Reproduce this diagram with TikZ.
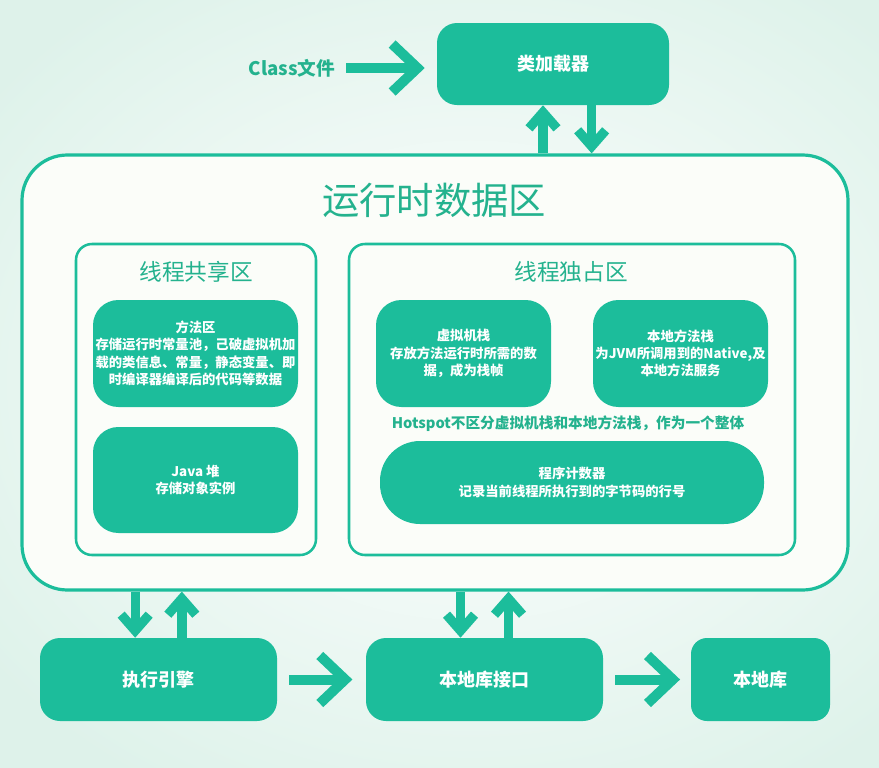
\documentclass[tikz,border=0pt]{standalone}
\usepackage{fontspec}
\setmainfont{Noto Sans CJK SC}
\usetikzlibrary{arrows.meta}
\definecolor{tl}{RGB}{28,189,155}
\definecolor{tltext}{RGB}{36,178,142}
\definecolor{bgm}{RGB}{222,242,234}
\definecolor{panel}{RGB}{251,253,249}
\tikzset{
  box/.style={fill=tl, text=white, align=center, inner sep=0pt,
    font=\fontsize{10}{13}\selectfont\bfseries},
  bigbox/.style={box, font=\fontsize{13.5}{16}\selectfont\bfseries},
  frame/.style={draw=tl, fill=panel, inner sep=0pt},
  harrow/.style={draw=tl, line width=7.5pt,
    -{Straight Barb[length=19pt, width=36pt]}},
  varrow/.style={draw=tl, line width=7pt,
    -{Straight Barb[length=12pt, width=21pt]}},
  ttl/.style={text=tltext, inner sep=0pt}
}
\begin{document}
\begin{tikzpicture}[x=0.75pt,y=-0.75pt]
\useasboundingbox (0,0) rectangle (879,768);
\fill[bgm] (0,0) rectangle (879,768);
\shade[inner color=white, outer color=bgm] (470,380) ellipse (600 and 480);

% main frames
\node[frame, line width=2.4pt, rounded corners=34pt,
  minimum width=619.5pt, minimum height=326.25pt] (rt) at (435,372.5) {};
\node[ttl, font=\fontsize{28}{30}\selectfont] (rttitle) at (434,200) {运行时数据区};

\node[frame, line width=1.9pt, rounded corners=12pt,
  minimum width=180pt, minimum height=233.25pt] (shared) at (196,399.5) {};
\node[ttl, font=\fontsize{17}{19}\selectfont] (sharedtitle) at (196,272) {线程共享区};

\node[frame, line width=1.9pt, rounded corners=12pt,
  minimum width=334.5pt, minimum height=233.25pt] (excl) at (572,399.5) {};
\node[ttl, font=\fontsize{17}{19}\selectfont] (excltitle) at (571,272) {线程独占区};

% inner boxes
\node[box, rounded corners=19pt, minimum width=153.75pt, minimum height=80.25pt]
  (method) at (195.5,353.5)
  {方法区\\存储运行时常量池，己破虚拟机加\\载的类信息、常量，静态变量、即\\时编译器编译后的代码等数据};
\node[box, rounded corners=19pt, minimum width=153.75pt, minimum height=79.5pt]
  (heap) at (195.5,480) {Java 堆\\存储对象实例};
\node[box, rounded corners=19pt, minimum width=131.25pt, minimum height=80.25pt]
  (vmstack) at (463.5,353.5) {虚拟机栈\\存放方法运行时所需的数\\据，成为栈帧};
\node[box, rounded corners=19pt, minimum width=131.25pt, minimum height=80.25pt]
  (nstack) at (680.5,353.5) {本地方法栈\\为JVM所调用到的Native,及\\本地方法服务};
\node[ttl, font=\fontsize{11}{13}\selectfont\bfseries] (hotspot) at (568,424)
  {Hotspot不区分虚拟机栈和本地方法栈，作为一个整体};
\node[box, rounded corners=30pt, minimum width=288pt, minimum height=62.25pt]
  (pc) at (572,482.5) {程序计数器\\记录当前线程所执行到的字节码的行号};

% top
\node[bigbox, rounded corners=15pt, minimum width=174pt, minimum height=61.5pt]
  (loader) at (553,64) {类加载器};
\node[ttl, font=\fontsize{14}{16}\selectfont\bfseries] (classfile) at (292,68) {Class文件};

% bottom
\node[bigbox, rounded corners=15pt, minimum width=177.75pt, minimum height=62.25pt]
  (exec) at (158.5,679.5) {执行引擎};
\node[bigbox, rounded corners=15pt, minimum width=177.75pt, minimum height=62.25pt]
  (nif) at (484.5,679.5) {本地库接口};
\node[bigbox, rounded corners=12pt, minimum width=104.25pt, minimum height=62.25pt]
  (nlib) at (760.5,679.5) {本地库};

% connectors
\draw[harrow, shorten <=8pt, shorten >=9pt] (classfile.east) -- (classfile.east -| loader.west);
\draw[varrow] ([xshift=-7.5pt]loader.south |- rt.north) -- ([xshift=-7.5pt]loader.south);
\draw[varrow] ([xshift=29pt]loader.south) -- ([xshift=29pt]loader.south |- rt.north);

\draw[varrow] ([xshift=-17.5pt]exec.north |- rt.south) -- ([xshift=-17.5pt]exec.north);
\draw[varrow] ([xshift=17.5pt]exec.north) -- ([xshift=17.5pt]exec.north |- rt.south);
\draw[varrow] ([xshift=-18pt]nif.north |- rt.south) -- ([xshift=-18pt]nif.north);
\draw[varrow] ([xshift=18pt]nif.north) -- ([xshift=18pt]nif.north |- rt.south);

\draw[harrow, shorten <=9pt, shorten >=10pt] (exec.east) -- (nif.west);
\draw[harrow, shorten <=9pt, shorten >=8pt] (nif.east) -- (nlib.west);
\end{tikzpicture}
\end{document}
